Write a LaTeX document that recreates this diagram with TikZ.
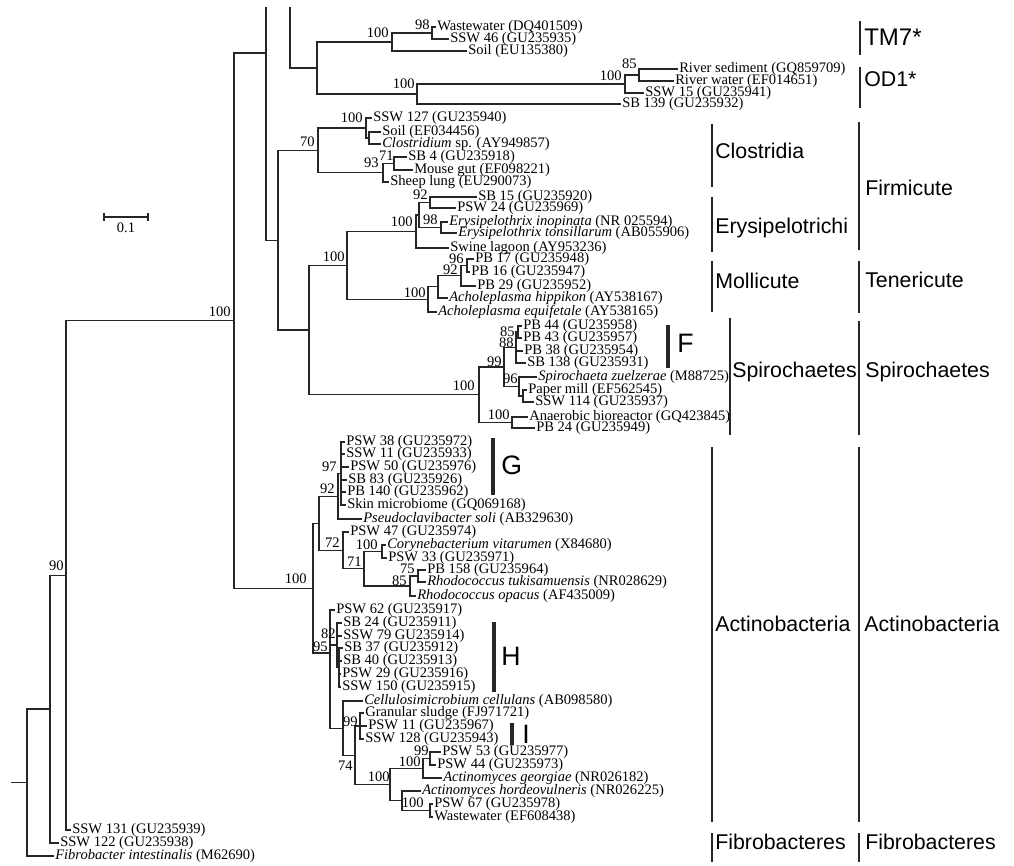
\documentclass[tikz,border=0pt]{standalone}
\usepackage{fontspec}
\setmainfont{Liberation Serif}
\newfontfamily\cladefont{Liberation Sans}
\newcommand{\tbr}[2]{\draw[tree] (#1) |- (#2);}
\begin{document}
\begin{tikzpicture}[x=0.75pt,y=-0.75pt,
 tree/.style={line width=0.9pt, black!85, line cap=rect},
 leaf/.style={anchor=west, inner xsep=1.5pt, inner ysep=0pt, text height=6.3pt, text depth=1.7pt, font=\fontsize{10.9}{12}\selectfont},
 bs/.style={anchor=base east, inner sep=0pt, font=\fontsize{10.9}{12}\selectfont},
 clade/.style={anchor=base west, inner sep=0pt, font=\cladefont\fontsize{16}{18}\selectfont},
 bigl/.style={anchor=base west, inner sep=0pt, font=\cladefont\fontsize{20}{22}\selectfont},
 cbar/.style={line width=0.9pt, black!85},
 tbar/.style={line width=2.3pt, black!85},
]
\useasboundingbox (0,0) rectangle (1014,866);

% ---------- leaves ----------
\node[leaf] (L1) at (435,27) {Wastewater (DQ401509)};
\node[leaf] (L2) at (448,39) {SSW 46 (GU235935)};
\node[leaf] (L3) at (466,51) {Soil (EU135380)};
\node[leaf] (L4) at (677,69) {River sediment (GQ859709)};
\node[leaf] (L5) at (673,81) {River water (EF014651)};
\node[leaf] (L6) at (643,93) {SSW 15 (GU235941)};
\node[leaf] (L7) at (620,104) {SB 139 (GU235932)};
\node[leaf] (L8) at (371,118) {SSW 127 (GU235940)};
\node[leaf] (L9) at (380,132) {Soil (EF034456)};
\node[leaf] (L10) at (380,144) {\textit{Clostridium} sp. (AY949857)};
\node[leaf] (L11) at (406,157) {SB 4 (GU235918)};
\node[leaf] (L12) at (412,170) {Mouse gut (EF098221)};
\node[leaf] (L13) at (388,182) {Sheep lung (EU290073)};
\node[leaf] (L14) at (476,197) {SB 15 (GU235920)};
\node[leaf] (L15) at (455,208) {PSW 24 (GU235969)};
\node[leaf] (L16) at (447,222) {\textit{Erysipelothrix inopinata} (NR 025594)};
\node[leaf] (L17) at (456,233) {\textit{Erysipelothrix tonsillarum} (AB055906)};
\node[leaf] (L18) at (448,248) {Swine lagoon (AY953236)};
\node[leaf] (L19) at (473,259) {PB 17 (GU235948)};
\node[leaf] (L20) at (469,272) {PB 16 (GU235947)};
\node[leaf] (L21) at (475,286) {PB 29 (GU235952)};
\node[leaf] (L22) at (447,298) {\textit{Acholeplasma hippikon} (AY538167)};
\node[leaf] (L23) at (436,312) {\textit{Acholeplasma equifetale} (AY538165)};
\node[leaf] (L24) at (521,326) {PB 44 (GU235958)};
\node[leaf] (L25) at (521,338) {PB 43 (GU235957)};
\node[leaf] (L26) at (522,351) {PB 38 (GU235954)};
\node[leaf] (L27) at (525,363) {SB 138 (GU235931)};
\node[leaf] (L28) at (536,377) {\textit{Spirochaeta zuelzerae} (M88725)};
\node[leaf] (L29) at (526,390) {Paper mill (EF562545)};
\node[leaf] (L30) at (533,402) {SSW 114 (GU235937)};
\node[leaf] (L31) at (527,417) {Anaerobic bioreactor (GQ423845)};
\node[leaf] (L32) at (534,428) {PB 24 (GU235949)};
\node[leaf] (L33) at (344,442) {PSW 38 (GU235972)};
\node[leaf] (L34) at (344,454) {SSW 11 (GU235933)};
\node[leaf] (L35) at (348,467) {PSW 50 (GU235976)};
\node[leaf] (L36) at (346,480) {SB 83 (GU235926)};
\node[leaf] (L37) at (345,492) {PB 140 (GU235962)};
\node[leaf] (L38) at (345,505) {Skin microbiome (GQ069168)};
\node[leaf] (L39) at (361,519) {\textit{Pseudoclavibacter soli} (AB329630)};
\node[leaf] (L40) at (348,532) {PSW 47 (GU235974)};
\node[leaf] (L41) at (385,545) {\textit{Corynebacterium vitarumen} (X84680)};
\node[leaf] (L42) at (386,558) {PSW 33 (GU235971)};
\node[leaf] (L43) at (425,570) {PB 158 (GU235964)};
\node[leaf] (L44) at (425,582) {\textit{Rhodococcus tukisamuensis} (NR028629)};
\node[leaf] (L45) at (415,596) {\textit{Rhodococcus opacus} (AF435009)};
\node[leaf] (L46) at (334,610) {PSW 62 (GU235917)};
\node[leaf] (L47) at (341,623) {SB 24 (GU235911)};
\node[leaf] (L48) at (341,636) {SSW 79 GU235914)};
\node[leaf] (L49) at (342,648) {SB 37 (GU235912)};
\node[leaf] (L50) at (341,661) {SB 40 (GU235913)};
\node[leaf] (L51) at (340,674) {PSW 29 (GU235916)};
\node[leaf] (L52) at (340,687) {SSW 150 (GU235915)};
\node[leaf] (L53) at (362,701) {\textit{Cellulosimicrobium cellulans} (AB098580)};
\node[leaf] (L54) at (363,713) {Granular sludge (FJ971721)};
\node[leaf] (L55) at (366,726) {PSW 11 (GU235967)};
\node[leaf] (L56) at (363,739) {SSW 128 (GU235943)};
\node[leaf] (L57) at (440,752) {PSW 53 (GU235977)};
\node[leaf] (L58) at (435,765) {PSW 44 (GU235973)};
\node[leaf] (L59) at (441,778) {\textit{Actinomyces georgiae} (NR026182)};
\node[leaf] (L60) at (420,791) {\textit{Actinomyces hordeovulneris} (NR026225)};
\node[leaf] (L61) at (432,804) {PSW 67 (GU235978)};
\node[leaf] (L62) at (432,817) {Wastewater (EF608438)};
\node[leaf] (L63) at (70,830) {SSW 131 (GU235939)};
\node[leaf] (L64) at (58,843) {SSW 122 (GU235938)};
\node[leaf] (L65) at (53,856) {\textit{Fibrobacter intestinalis} (M62690)};

% ---------- internal nodes ----------
\coordinate (N432) at (432,33);
\coordinate (N392) at (392,42);
\coordinate (N639) at (639,75);
\coordinate (N625) at (625,84);
\coordinate (N417) at (417,94);
\coordinate (N317) at (317,68);
\coordinate (N290) at (290,8);
\coordinate (N266t) at (266,8);
\coordinate (N266) at (266,53);
\coordinate (N366) at (366,128);
\coordinate (N369) at (369,138);
\coordinate (N394) at (394,163.5);
\coordinate (N383) at (383,172.75);
\coordinate (N318) at (318,150.4);
\coordinate (N430) at (430,202.5);
\coordinate (N441) at (441,227.5);
\coordinate (N419) at (419,215);
\coordinate (N416) at (416,231.5);
\coordinate (N467) at (467,265.5);
\coordinate (N461) at (461,275.75);
\coordinate (N438) at (438,286.9);
\coordinate (N428) at (428,299.4);
\coordinate (N347) at (347,265.5);
\coordinate (N518) at (518,332);
\coordinate (N516) at (516,347.5);
\coordinate (N523) at (523,396);
\coordinate (N519) at (519,386.5);
\coordinate (N504) at (504,367);
\coordinate (N512) at (512,422.5);
\coordinate (N479) at (479,394.75);
\coordinate (N309) at (309,330.1);
\coordinate (N278) at (278,240.3);
\coordinate (N234) at (234,320.6);
\coordinate (N341) at (341,473.5);
\coordinate (N338) at (338,496.25);
\coordinate (N382) at (382,551.5);
\coordinate (N418) at (418,576);
\coordinate (N410) at (410,586);
\coordinate (N364) at (364,568.75);
\coordinate (N343) at (343,550.4);
\coordinate (N319) at (319,523.3);
\coordinate (N337) at (337,645);
\coordinate (N339) at (339,667.5);
\coordinate (N360) at (360,726);
\coordinate (N430a) at (430,758.5);
\coordinate (N423) at (423,768.25);
\coordinate (N430b) at (430,810.5);
\coordinate (N402) at (402,800.75);
\coordinate (N390) at (390,784.5);
\coordinate (N355) at (355,755.25);
\coordinate (N343x) at (343,728.1);
\coordinate (N330) at (330,653);
\coordinate (N313) at (313,588.2);
\coordinate (N66) at (66,575.3);
\coordinate (N50) at (50,709);
\coordinate (N27) at (27,782.5);
\coordinate (R0) at (12,782.5);

% ---------- branches ----------
\tbr{N432}{L1.west} \tbr{N432}{L2.west}
\tbr{N392}{N432} \tbr{N392}{L3.west}
\tbr{N639}{L4.west} \tbr{N639}{L5.west}
\tbr{N625}{N639} \tbr{N625}{L6.west}
\tbr{N417}{N625} \tbr{N417}{L7.west}
\tbr{N317}{N392} \tbr{N317}{N417}
\tbr{N290}{N317}
\draw[tree] (N266t) -- (N266);
\tbr{N266}{N278}
\tbr{N234}{N266} \tbr{N234}{N313}
\tbr{N278}{N318} \tbr{N278}{N309}
\tbr{N318}{N366} \tbr{N318}{N383}
\tbr{N366}{L8.west} \tbr{N366}{N369}
\tbr{N369}{L9.west} \tbr{N369}{L10.west}
\tbr{N383}{N394} \tbr{N383}{L13.west}
\tbr{N394}{L11.west} \tbr{N394}{L12.west}
\tbr{N309}{N347} \tbr{N309}{N479}
\tbr{N347}{N416} \tbr{N347}{N428}
\tbr{N416}{N419} \tbr{N416}{L18.west}
\tbr{N419}{N430} \tbr{N419}{N441}
\tbr{N430}{L14.west} \tbr{N430}{L15.west}
\tbr{N441}{L16.west} \tbr{N441}{L17.west}
\tbr{N428}{N438} \tbr{N428}{L23.west}
\tbr{N438}{N461} \tbr{N438}{L22.west}
\tbr{N461}{N467} \tbr{N461}{L21.west}
\tbr{N467}{L19.west} \tbr{N467}{L20.west}
\tbr{N479}{N504} \tbr{N479}{N512}
\tbr{N504}{N516} \tbr{N504}{N519}
\tbr{N516}{N518} \tbr{N516}{L26.west} \tbr{N516}{L27.west}
\tbr{N518}{L24.west} \tbr{N518}{L25.west}
\tbr{N519}{L28.west} \tbr{N519}{N523}
\tbr{N523}{L29.west} \tbr{N523}{L30.west}
\tbr{N512}{L31.west} \tbr{N512}{L32.west}
\tbr{N313}{N319} \tbr{N313}{N330}
\tbr{N319}{N338} \tbr{N319}{N343}
\tbr{N338}{N341} \tbr{N338}{L39.west}
\tbr{N341}{L33.west} \tbr{N341}{L34.west} \tbr{N341}{L35.west}
\tbr{N341}{L36.west} \tbr{N341}{L37.west} \tbr{N341}{L38.west}
\tbr{N343}{L40.west} \tbr{N343}{N364}
\tbr{N364}{N382} \tbr{N364}{N410}
\tbr{N382}{L41.west} \tbr{N382}{L42.west}
\tbr{N410}{N418} \tbr{N410}{L45.west}
\tbr{N418}{L43.west} \tbr{N418}{L44.west}
\tbr{N330}{L46.west} \tbr{N330}{N337} \tbr{N330}{N343x}
\tbr{N337}{L47.west} \tbr{N337}{L48.west} \tbr{N337}{N339}
\tbr{N339}{L49.west} \tbr{N339}{L50.west} \tbr{N339}{L51.west} \tbr{N339}{L52.west}
\tbr{N343x}{L53.west} \tbr{N343x}{N355}
\tbr{N355}{N360} \tbr{N355}{N390}
\tbr{N360}{L54.west} \tbr{N360}{L55.west} \tbr{N360}{L56.west}
\tbr{N390}{N423} \tbr{N390}{N402}
\tbr{N423}{N430a} \tbr{N423}{L59.west}
\tbr{N430a}{L57.west} \tbr{N430a}{L58.west}
\tbr{N402}{L60.west} \tbr{N402}{N430b}
\tbr{N430b}{L61.west} \tbr{N430b}{L62.west}
\tbr{N66}{N234} \tbr{N66}{L63.west}
\tbr{N50}{N66} \tbr{N50}{L64.west}
\tbr{N27}{N50} \tbr{N27}{L65.west}
\draw[tree] (R0) -- (N27);

% ---------- bootstrap values ----------
\node[bs] (b1) at (430,30) {98};
\node[bs] (b2) at (389,38) {100};
\node[bs] (b3) at (637,69) {85};
\node[bs] (b4) at (622,81) {100};
\node[bs] (b5) at (415,89) {100};
\node[bs] (b6) at (363,123) {100};
\node[bs] (b7) at (315,147) {70};
\node[bs] (b8) at (394,161) {71};
\node[bs] (b9) at (379,168) {93};
\node[bs] (b10) at (428,200) {92};
\node[bs] (b11) at (413,227) {100};
\node[bs] (b12) at (438,225) {98};
\node[bs] (b13) at (345,262) {100};
\node[bs] (b14) at (464,263.5) {96};
\node[bs] (b15) at (458,275) {92};
\node[bs] (b16) at (426,298) {100};
\node[bs] (b17) at (475,390) {100};
\node[bs] (b18) at (502,366) {99};
\node[bs] (b19) at (515,336) {85};
\node[bs] (b20) at (514,347.5) {88};
\node[bs] (b21) at (518,383) {96};
\node[bs] (b22) at (510,419) {100};
\node[bs] (b23) at (231,317) {100};
\node[bs] (b24) at (64,570) {90};
\node[bs] (b25) at (307,583) {100};
\node[bs] (b26) at (337,471) {97};
\node[bs] (b27) at (335,493) {92};
\node[bs] (b28) at (340,547) {72};
\node[bs] (b29) at (378,549) {100};
\node[bs] (b30) at (362,566) {71};
\node[bs] (b31) at (415,573.5) {75};
\node[bs] (b32) at (407,585) {85};
\node[bs] (b33) at (336,638) {82};
\node[bs] (b34) at (328,651) {95};
\node[bs] (b35) at (358,726) {99};
\node[bs] (b36) at (353,770) {74};
\node[bs] (b37) at (390,781) {100};
\node[bs] (b38) at (429,755) {99};
\node[bs] (b39) at (421,766) {100};
\node[bs] (b40) at (424,807) {100};

% ---------- scale bar ----------
\coordinate (sb1) at (104,217);
\coordinate (sb2) at (148,217);
\draw[tree] (sb1) -- (sb2);
\draw[tree] ([yshift=2.2pt]sb1) -- ([yshift=-2.2pt]sb1);
\draw[tree] ([yshift=2.2pt]sb2) -- ([yshift=-2.2pt]sb2);
\node[anchor=base, inner sep=0pt, font=\fontsize{10.9}{12}\selectfont] (sbl) at (126,233) {0.1};

% ---------- thick cluster bars ----------
\draw[tbar] (668,325) coordinate (Ft) -- (668,368) coordinate (Fb);
\node[bigl] (Fl) at (677,353) {F};
\draw[tbar] (493,438) coordinate (Gt) -- (493,495) coordinate (Gb);
\node[bigl] (Gl) at (501,474) {G};
\draw[tbar] (494,622) coordinate (Ht) -- (494,692) coordinate (Hb);
\node[bigl] (Hl) at (501,665) {H};
\draw[tbar] (512,723) coordinate (It) -- (512,745) coordinate (Ib);
\node[bigl] (Il) at (522,743) {I};

% ---------- clade bars ----------
\draw[cbar] (860,21) -- (860,55);
\node[clade, font=\cladefont\fontsize{18}{20}\selectfont] (tm7) at (864,46) {TM7*};
\draw[cbar] (860,67) -- (860,108);
\node[clade] (od1) at (864,87) {OD1*};
\draw[cbar] (712,124) -- (712,187);
\node[clade] (clo) at (715,159) {Clostridia};
\draw[cbar] (712,197) -- (712,252);
\node[clade] (ery) at (715,234) {Erysipelotrichi};
\draw[cbar] (859,122) -- (859,250);
\node[clade] (fir) at (865,196) {Firmicute};
\draw[cbar] (712,261) -- (712,312);
\node[clade] (mol) at (715,289) {Mollicute};
\draw[cbar] (859,261) -- (859,313);
\node[clade] (ten) at (865,288) {Tenericute};
\draw[cbar] (730,318) -- (730,435);
\node[clade] (spi1) at (732,378) {Spirochaetes};
\draw[cbar] (859,321) -- (859,435);
\node[clade] (spi2) at (865,378) {Spirochaetes};
\draw[cbar] (712,447) -- (712,822);
\node[clade] (act1) at (715,631) {Actinobacteria};
\draw[cbar] (859,447) -- (859,822);
\node[clade] (act2) at (864,631) {Actinobacteria};
\draw[cbar] (712,833) -- (712,862);
\node[clade] (fib1) at (715,849) {Fibrobacteres};
\draw[cbar] (859,833) -- (859,862);
\node[clade] (fib2) at (865,849) {Fibrobacteres};
\end{tikzpicture}
\end{document}
